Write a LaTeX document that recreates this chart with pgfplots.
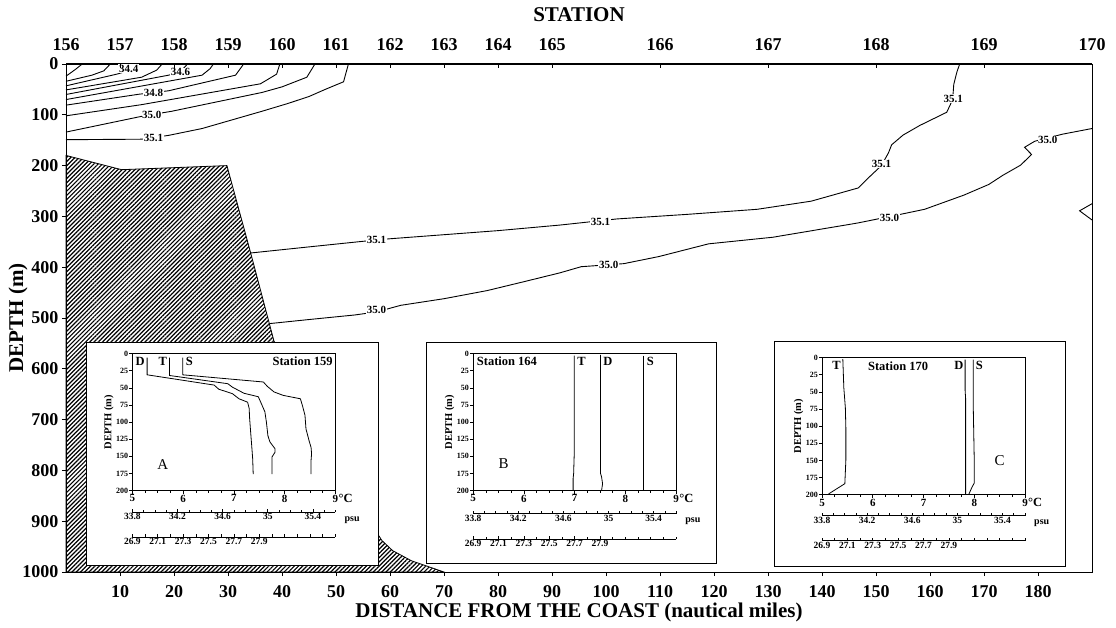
\documentclass[border=0pt]{standalone}
\usepackage{fontspec}
\setmainfont{Liberation Serif}
\usepackage{pgfplots}
\pgfplotsset{compat=1.18}
\usetikzlibrary{patterns.meta}
\begin{document}
\begin{tikzpicture}
\tikzset{
  clab/.style={fill=white, inner sep=0.6pt, font=\bfseries\fontsize{11}{12}\selectfont},
  plab/.style={font=\bfseries\fontsize{12.5}{13}\selectfont, inner sep=1pt},
  big/.style={font=\fontsize{15}{16}\selectfont},
}
\pgfplotsset{
  inset/.style={scale only axis, anchor=north west, width=203pt, height=137pt,
    xmin=5,xmax=9,ymin=0,ymax=200, y dir=reverse,
    xtick={5,6,7,8,9}, minor x tick num=3, ytick={0,25,...,200},
    xtick pos=bottom, ytick pos=left, tick align=outside,
    major tick length=3pt, minor tick length=2pt,
    tick style={black,line width=0.6pt}, axis line style={line width=0.8pt},
    /pgf/number format/assume math mode=true,
    xticklabel style={font=\bfseries\fontsize{11}{12}\selectfont, inner sep=1pt},
    yticklabel style={font=\bfseries\fontsize{8}{9}\selectfont, inner sep=1pt},
    ylabel={DEPTH (m)}, ylabel style={font=\bfseries\fontsize{10.5}{11}\selectfont, yshift=-2pt},
    clip=false},
  subscale/.style={scale only axis, anchor=south west, width=203pt, height=1pt, ymin=0, ymax=1,
    axis y line=none, axis x line*=bottom, tick align=inside,
    major tick length=3pt, minor tick length=2.5pt, tick style={black,line width=0.6pt},
    axis line style={line width=0.8pt},
    xticklabel style={font=\bfseries\fontsize{9.5}{10}\selectfont, inner sep=1pt}, clip=false},
  psu/.style={subscale, xmin=33.8, xmax=35.6, xtick={33.8,34.2,34.6,35,35.4},
    xticklabels={33.8,34.2,34.6,35,35.4},
    minor xtick={33.9,34.0,34.1,34.3,34.4,34.5,34.7,34.8,34.9,35.1,35.2,35.3,35.5,35.6}},
  sig/.style={subscale, xmin=26.9, xmax=28.5, xtick={26.9,27.1,27.3,27.5,27.7,27.9},
    xticklabels={26.9,27.1,27.3,27.5,27.7,27.9},
    minor xtick={27.0,27.2,27.4,27.6,27.8,28.0,28.1,28.2,28.3,28.4,28.5}},
}
\begin{axis}[name=main, at={(0pt,0pt)}, anchor=south west, scale only axis,
  width=1026pt, height=508pt,
  xmin=0,xmax=190,ymin=0,ymax=1000, y dir=reverse,
  xtick={10,20,...,180}, ytick={0,100,...,1000},
  xtick pos=bottom, ytick pos=left, tick align=outside, major tick length=4pt,
  tick style={black, line width=0.8pt}, axis line style={line width=1pt},
  /pgf/number format/assume math mode=true, /pgf/number format/1000 sep={},
  ticklabel style={font=\bfseries\fontsize{18}{20}\selectfont},
  xticklabel style={yshift=-6pt},
  clip=false]
% bathymetry
\addplot[draw=black, line width=0.8pt, pattern={Lines[angle=45,distance=3pt,line width=1.2pt]}]
 coordinates {(0,1000) (0,180) (10.3,208) (29.8,200) (34.2,372) (38.5,545) (48,745) (56.5,905) (58.5,938) (60.5,958) (64,978) (70,1000) (0,1000)};
% coastal contours (34.2 ... 35.1)
\addplot[black, line width=0.9pt] coordinates {(0,24) (1.7,11) (3,0)};
\addplot[black, line width=0.9pt] coordinates {(0,34) (4.8,22) (7,13.5) (8.2,0)};
\addplot[black, line width=0.9pt] coordinates {(0,43) (9.4,20) (12,12) (13,0)};
\addplot[black, line width=0.9pt] coordinates {(0,51) (14,26) (16.8,12) (17.8,0)};
\addplot[black, line width=0.9pt] coordinates {(0,60) (19,22) (21.2,15) (22.5,0)};
\addplot[black, line width=0.9pt] coordinates {(0,70) (25.2,22) (26.7,9) (27.3,0)};
\addplot[black, line width=0.9pt] coordinates {(0,81) (13.5,59.5) (19,52.7) (31.4,22) (32.9,0)};
\addplot[black, line width=0.9pt] coordinates {(0,102) (14,80) (36,39) (39,20) (39.6,0)};
\addplot[black, line width=0.9pt] coordinates {(0,134) (14,103) (19.6,93) (36.3,56) (40,45) (44.6,26) (46.1,0)};
\addplot[black, line width=0.9pt] coordinates {(0,149) (14,148) (19,140.5) (25.2,127) (36.3,93) (41,78) (45,64) (48,50) (51.4,35) (52.3,0)};
% deep 35.1
\addplot[black, line width=0.9pt] coordinates {(34.2,372) (45,360) (55,349) (60,344) (70,336) (80,328) (91.5,317) (102,305) (115,296) (128,286) (138,270) (146.7,244) (149,220) (151,200) (152.3,175) (152.9,159) (155,140) (158.1,121) (163.1,95) (164.2,70) (164.4,40) (165,15) (165.5,0)};
% deep 35.0
\addplot[black, line width=0.9pt] coordinates {(37.7,511) (45,503) (53.5,494) (57.5,488) (62,475) (70,462) (78,446) (85,428) (91.5,411) (95.4,399) (103.3,393) (109.8,379) (119,354) (130.9,341) (146.6,313) (154.5,296) (159,286) (166.3,258) (170.9,237) (173.5,219) (176.8,199) (178.8,178) (177.5,164) (179.4,152) (184.6,138) (190,127)};
% small notch at right edge
\addplot[black, line width=0.9pt] coordinates {(190,275) (187.7,289) (190,307)};
% contour labels
\node[clab] at (axis cs:11.6,9) {34.4};
\node[clab] at (axis cs:21.2,15.5) {34.6};
\node[clab] at (axis cs:16.2,57) {34.8};
\node[clab] at (axis cs:15.9,100) {35.0};
\node[clab] at (axis cs:16.2,145) {35.1};
\node[clab] at (axis cs:57.5,346) {35.1};
\node[clab] at (axis cs:99,311) {35.1};
\node[clab] at (axis cs:151,197) {35.1};
\node[clab] at (axis cs:164.3,68) {35.1};
\node[clab] at (axis cs:57.5,484) {35.0};
\node[clab] at (axis cs:100.5,396) {35.0};
\node[clab] at (axis cs:152.5,303) {35.0};
\node[clab] at (axis cs:181.8,150) {35.0};
% inset anchors
\coordinate (Ab1) at (axis cs:3.7,548);  \coordinate (Ab2) at (axis cs:57.9,987);
\coordinate (Ain) at (axis cs:12.3,570); \coordinate (Apsu) at (axis cs:12.3,882); \coordinate (Asig) at (axis cs:12.3,931);
\coordinate (Bb1) at (axis cs:66.7,548); \coordinate (Bb2) at (axis cs:120.4,983);
\coordinate (Bin) at (axis cs:75.4,570); \coordinate (Bpsu) at (axis cs:75.4,885); \coordinate (Bsig) at (axis cs:75.4,936);
\coordinate (Cb1) at (axis cs:131.2,546); \coordinate (Cb2) at (axis cs:185.1,989);
\coordinate (Cin) at (axis cs:140,578); \coordinate (Cpsu) at (axis cs:140,889); \coordinate (Csig) at (axis cs:140,938);
\end{axis}
% top station axis
\begin{axis}[at={(0pt,0pt)}, anchor=south west, scale only axis, width=1026pt, height=508pt,
  xmin=0,xmax=190, ymin=0,ymax=1, axis x line*=top, axis y line=none,
  xtick={0,10,20,30,40,50,60,70,80,90,110,130,150,170,190},
  xticklabels={156,157,158,159,160,161,162,163,164,165,166,167,168,169,170},
  tick align=inside, major tick length=4pt, tick style={black, line width=0.8pt},
  axis line style={line width=1pt},
  xticklabel style={font=\bfseries\fontsize{18}{20}\selectfont, yshift=10pt}]
\end{axis}
\node[font=\bfseries\fontsize{21}{24}\selectfont] at ([yshift=49pt]main.north) {STATION};
\node[font=\bfseries\fontsize{21}{24}\selectfont] at ([yshift=-40pt]main.south) {DISTANCE FROM THE COAST (nautical miles)};
\node[font=\bfseries\fontsize{21}{24}\selectfont, rotate=90] at ([xshift=-48pt]main.west) {DEPTH (m)};
% frames
\draw[fill=white, line width=0.9pt] (Ab1) rectangle (Ab2);
\draw[fill=white, line width=0.9pt] (Bb1) rectangle (Bb2);
\draw[fill=white, line width=0.9pt] (Cb1) rectangle (Cb2);
% ---- inset A
\begin{axis}[inset, at={(Ain)}]
\addplot[black, line width=0.8pt] coordinates {(5.29,6) (5.29,31) (6.61,46) (6.70,52) (6.97,58.5) (7.10,66) (7.27,71) (7.30,80) (7.31,95) (7.33,115) (7.35,134) (7.37,154) (7.38,176)};
\addplot[black, line width=0.8pt] coordinates {(5.73,6) (5.73,32) (6.88,44) (6.97,49) (7.20,58) (7.48,63) (7.54,73) (7.61,85) (7.64,100) (7.67,120) (7.71,129) (7.81,139) (7.81,144) (7.75,151) (7.75,176)};
\addplot[black, line width=0.8pt] coordinates {(5.99,6) (5.99,31) (7.58,41.5) (7.66,48) (7.79,56) (7.97,61) (8.31,66) (8.35,76) (8.40,90) (8.42,110) (8.48,127) (8.52,137) (8.53,146) (8.52,156) (8.52,176)};
\node[plab] at (axis cs:5.15,11) {D};
\node[plab] at (axis cs:5.6,11) {T};
\node[plab] at (axis cs:6.12,11) {S};
\node[plab, anchor=east] at (axis cs:8.97,11) {Station 159};
\node[big] at (axis cs:5.6,162) {A};
\node[plab, anchor=west, yshift=-8pt] at (axis cs:9.04,200) {°C};
\end{axis}
\begin{axis}[psu, at={(Apsu)}]
\node[plab, anchor=west, xshift=8pt, yshift=-8pt, font=\bfseries\fontsize{10}{11}\selectfont] at (axis cs:35.6,0) {psu};
\end{axis}
\begin{axis}[sig, at={(Asig)}]
\end{axis}
% ---- inset B
\begin{axis}[inset, at={(Bin)}]
\addplot[black, line width=0.8pt] coordinates {(6.99,3) (6.99,150) (6.98,175) (6.97,182) (6.97,200)};
\addplot[black, line width=0.8pt] coordinates {(7.51,2) (7.51,175) (7.53,180) (7.55,190) (7.53,200)};
\addplot[black, line width=0.8pt] coordinates {(8.36,3) (8.36,200)};
\node[plab, anchor=west] at (axis cs:5.05,11) {Station 164};
\node[plab, anchor=west] at (axis cs:7.03,11) {T};
\node[plab, anchor=west] at (axis cs:7.54,11) {D};
\node[plab, anchor=west] at (axis cs:8.40,11) {S};
\node[big] at (axis cs:5.6,160) {B};
\node[plab, anchor=west, yshift=-8pt] at (axis cs:9.04,200) {°C};
\end{axis}
\begin{axis}[psu, at={(Bpsu)}]
\node[plab, anchor=west, xshift=8pt, yshift=-8pt, font=\bfseries\fontsize{10}{11}\selectfont] at (axis cs:35.6,0) {psu};
\end{axis}
\begin{axis}[sig, at={(Bsig)}]
\end{axis}
% ---- inset C
\begin{axis}[inset, at={(Cin)}]
\addplot[black, line width=0.8pt] coordinates {(5.41,2) (5.43,44) (5.46,73) (5.47,102) (5.47,150) (5.45,184) (5.30,191) (5.13,199)};
\addplot[black, line width=0.8pt] coordinates {(7.82,3) (7.82,48) (7.83,60) (7.83,200)};
\addplot[black, line width=0.8pt] coordinates {(7.98,3) (7.98,70) (8.0,150) (8.0,183) (7.95,190) (7.89,200)};
\node[plab, anchor=east] at (axis cs:5.39,11) {T};
\node[plab] at (axis cs:6.5,12) {Station 170};
\node[plab, anchor=east] at (axis cs:7.81,11) {D};
\node[plab, anchor=west] at (axis cs:8.01,11) {S};
\node[big] at (axis cs:8.5,150) {C};
\node[plab, anchor=west, yshift=-8pt] at (axis cs:9.04,200) {°C};
\end{axis}
\begin{axis}[psu, at={(Cpsu)}]
\node[plab, anchor=west, xshift=8pt, yshift=-8pt, font=\bfseries\fontsize{10}{11}\selectfont] at (axis cs:35.6,0) {psu};
\end{axis}
\begin{axis}[sig, at={(Csig)}]
\end{axis}
\pgfresetboundingbox
\path ([xshift=-66pt,yshift=-55pt]main.south west) rectangle ([xshift=24pt,yshift=64pt]main.north east);
\end{tikzpicture}
\end{document}
